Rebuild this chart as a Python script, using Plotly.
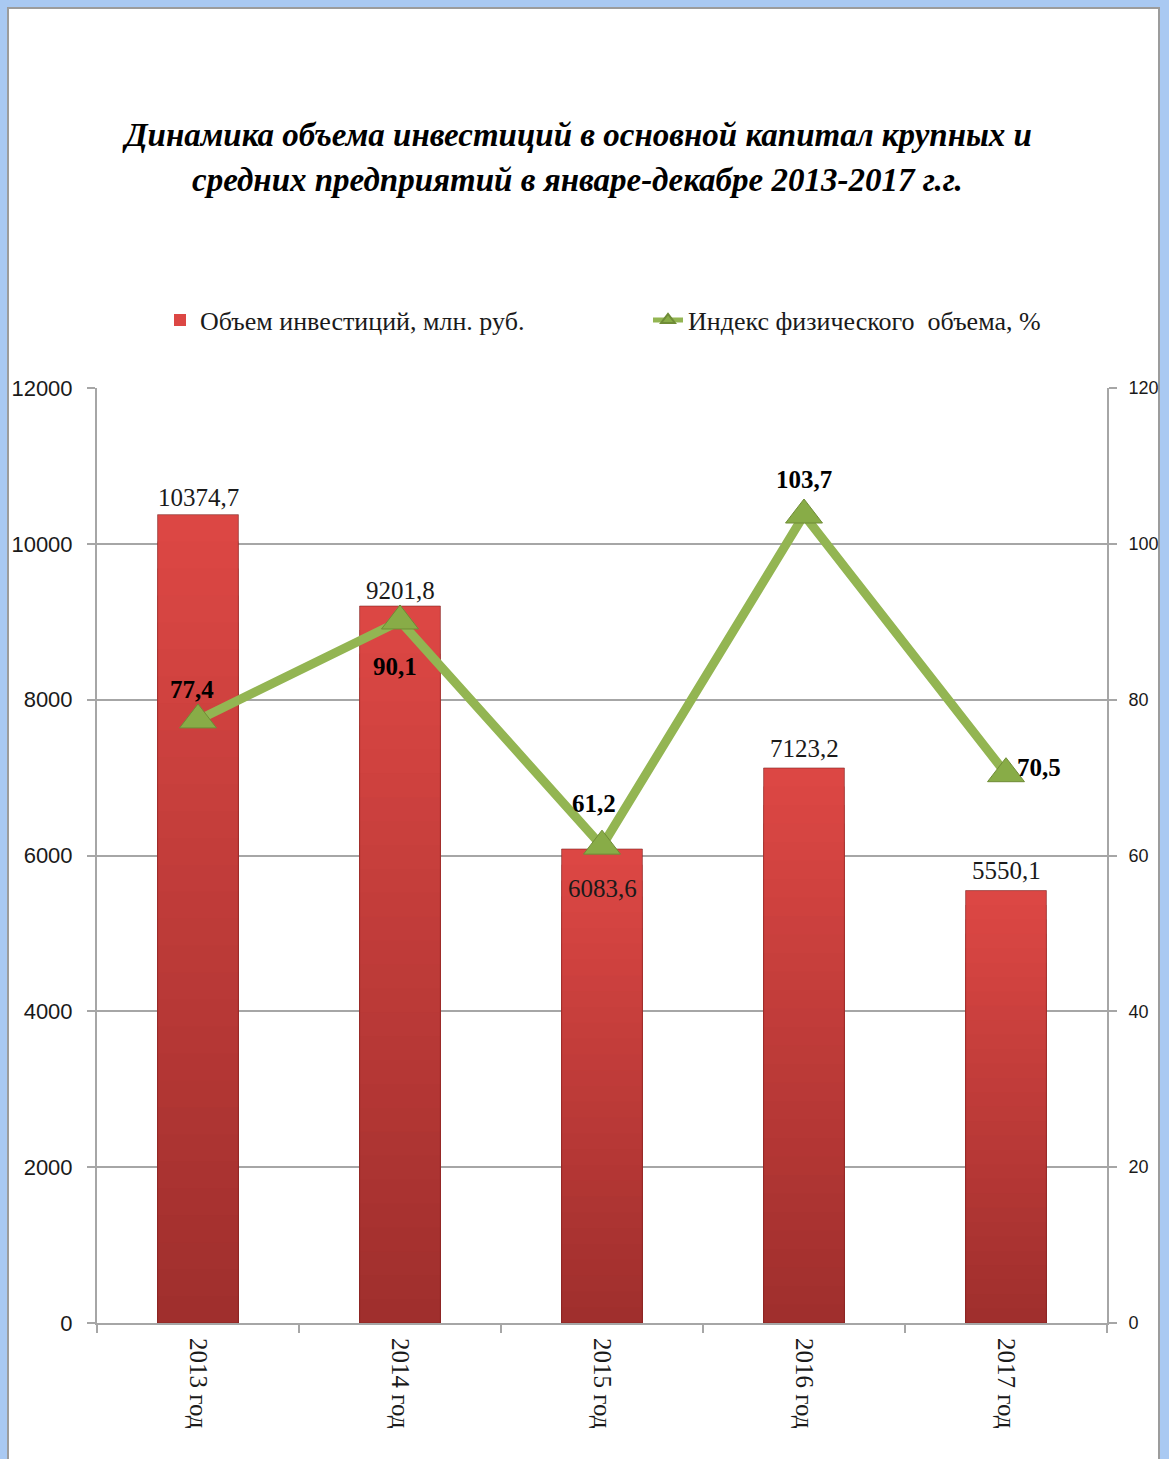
import plotly.graph_objects as go

# --- data ---------------------------------------------------------------
years = ["2013 год", "2014 год", "2015 год", "2016 год", "2017 год"]
investments = [10374.7, 9201.8, 6083.6, 7123.2, 5550.1]   # млн. руб.
volume_index = [77.4, 90.1, 61.2, 103.7, 70.5]            # %

title_lines = [
    "Динамика объема инвестиций в основной капитал крупных и",
    "средних предприятий в январе-декабре 2013-2017 г.г.",
]
bar_name = "Объем инвестиций, млн. руб."
line_name = "Индекс физического  объема, %"

# --- styling -------------------------------------------------------------
W, H = 1169, 1459
M_L, M_R, M_T, M_B = 97, 62, 388, 136
PW, PH = W - M_L - M_R, H - M_T - M_B

SERIF = "Liberation Serif, Times New Roman, serif"
SANS = "Liberation Sans, Arial, sans-serif"
TXT = "#1a1a1a"
GRID = "#a6a6a6"
BAR_TOP = (220, 71, 68)
BAR_BOTTOM = (160, 47, 45)
GREEN = "#93b552"
GREEN_MARK = "#88ac47"


def fmt(v):
    return f"{v}".replace(".", ",")


def px_x(px):
    return (px - M_L) / PW


def px_y(py):
    return (H - M_B - py) / PH


def mix(a, b, t):
    return "rgb(%d,%d,%d)" % tuple(round(a[i] + (b[i] - a[i]) * t) for i in range(3))


fig = go.Figure()

# bars: stacked overlays of decreasing height give a top-to-bottom shading
STEPS = 30
for k in range(STEPS):
    frac = 1 - k / STEPS
    fig.add_trace(go.Bar(
        x=years, y=[v * frac for v in investments],
        width=0.4,
        marker=dict(color=mix(BAR_TOP, BAR_BOTTOM, k / (STEPS - 1)), line=dict(width=0)),
        name=bar_name, showlegend=(k == 0), legendrank=1,
        hoverinfo="skip",
    ))
# thin darker outline around each bar
fig.add_trace(go.Bar(
    x=years, y=investments, width=0.4,
    marker=dict(color="rgba(0,0,0,0)", line=dict(color="rgba(120,30,28,0.55)", width=1)),
    showlegend=False, hoverinfo="skip",
))

# index line on the secondary axis
fig.add_trace(go.Scatter(
    x=years, y=volume_index, yaxis="y2", mode="lines+markers",
    name=line_name, legendrank=2,
    line=dict(color=GREEN, width=9),
    marker=dict(symbol="triangle-up", size=32, color=GREEN_MARK,
                line=dict(color="#6f8c36", width=1)),
))

annotations = []

# value labels for bars (xshift, yshift, anchor)
bar_label_pos = [(0, 2, "bottom"), (0, 0, "bottom"), (0, -24, "top"), (0, 4, "bottom"), (0, 5, "bottom")]
for yr, v, (dx, dy, anc) in zip(years, investments, bar_label_pos):
    annotations.append(dict(
        x=yr, y=v, xref="x", yref="y", text=fmt(v), showarrow=False,
        xanchor="center", yanchor=anc, xshift=dx, yshift=dy,
        font=dict(family=SERIF, size=25, color=TXT),
    ))

# value labels for the index line
line_label_pos = [(-6, 30), (-5, -46), (-8, 43), (0, 36), (33, 6)]
for yr, v, (dx, dy) in zip(years, volume_index, line_label_pos):
    annotations.append(dict(
        x=yr, y=v, xref="x", yref="y2", text=f"<b>{fmt(v)}</b>", showarrow=False,
        xanchor="center", yanchor="middle", xshift=dx, yshift=dy,
        font=dict(family=SERIF, size=25, color="#000000"),
    ))

# title
for line, py in zip(title_lines, [135, 180]):
    annotations.append(dict(
        x=px_x(577), y=px_y(py), xref="paper", yref="paper",
        text=f"<b><i>{line}</i></b>", showarrow=False,
        xanchor="center", yanchor="middle",
        font=dict(family=SERIF, size=33, color="#000000"),
    ))

# window frame: light blue border with a thin grey inner edge
shapes = [dict(
    type="rect", xref="paper", yref="paper", layer="below",
    x0=px_x(8), x1=px_x(1159), y0=px_y(H + 5), y1=px_y(8),
    fillcolor="white", line=dict(color="#9c9c9c", width=2),
)]

fig.update_layout(
    width=W, height=H,
    margin=dict(l=M_L, r=M_R, t=M_T, b=M_B, autoexpand=False),
    paper_bgcolor="#a9c9f2",
    plot_bgcolor="rgba(0,0,0,0)",
    barmode="overlay",
    bargap=0.6,
    showlegend=True,
    legend=dict(
        orientation="h", x=px_x(160), y=px_y(320), xanchor="left", yanchor="middle",
        font=dict(family=SERIF, size=26, color=TXT),
        entrywidth=443, entrywidthmode="pixels",
        bgcolor="rgba(0,0,0,0)", itemsizing="constant", traceorder="normal",
    ),
    xaxis=dict(
        type="category", showgrid=False, showline=True, linecolor=GRID, linewidth=2,
        ticks="outside", tickson="boundaries", ticklen=8, tickcolor=GRID, tickwidth=2,
        tickangle=90, tickfont=dict(family=SERIF, size=25, color=TXT),
        ticklabelstandoff=8,
    ),
    yaxis=dict(
        range=[0, 12000], dtick=2000, tickformat="d", showgrid=True, gridcolor=GRID, gridwidth=2,
        zeroline=False, showline=True, linecolor=GRID, linewidth=2,
        ticks="outside", ticklen=8, tickcolor=GRID, tickwidth=2,
        tickfont=dict(family=SANS, size=22, color=TXT), ticklabelstandoff=10,
    ),
    yaxis2=dict(
        range=[0, 120], dtick=20, overlaying="y", side="right", showgrid=False,
        zeroline=False, showline=True, linecolor=GRID, linewidth=2,
        ticks="outside", ticklen=8, tickcolor=GRID, tickwidth=2,
        tickfont=dict(family=SANS, size=18, color=TXT), ticklabelstandoff=8,
    ),
    annotations=annotations,
    shapes=shapes,
)

fig.write_html("out.html")
